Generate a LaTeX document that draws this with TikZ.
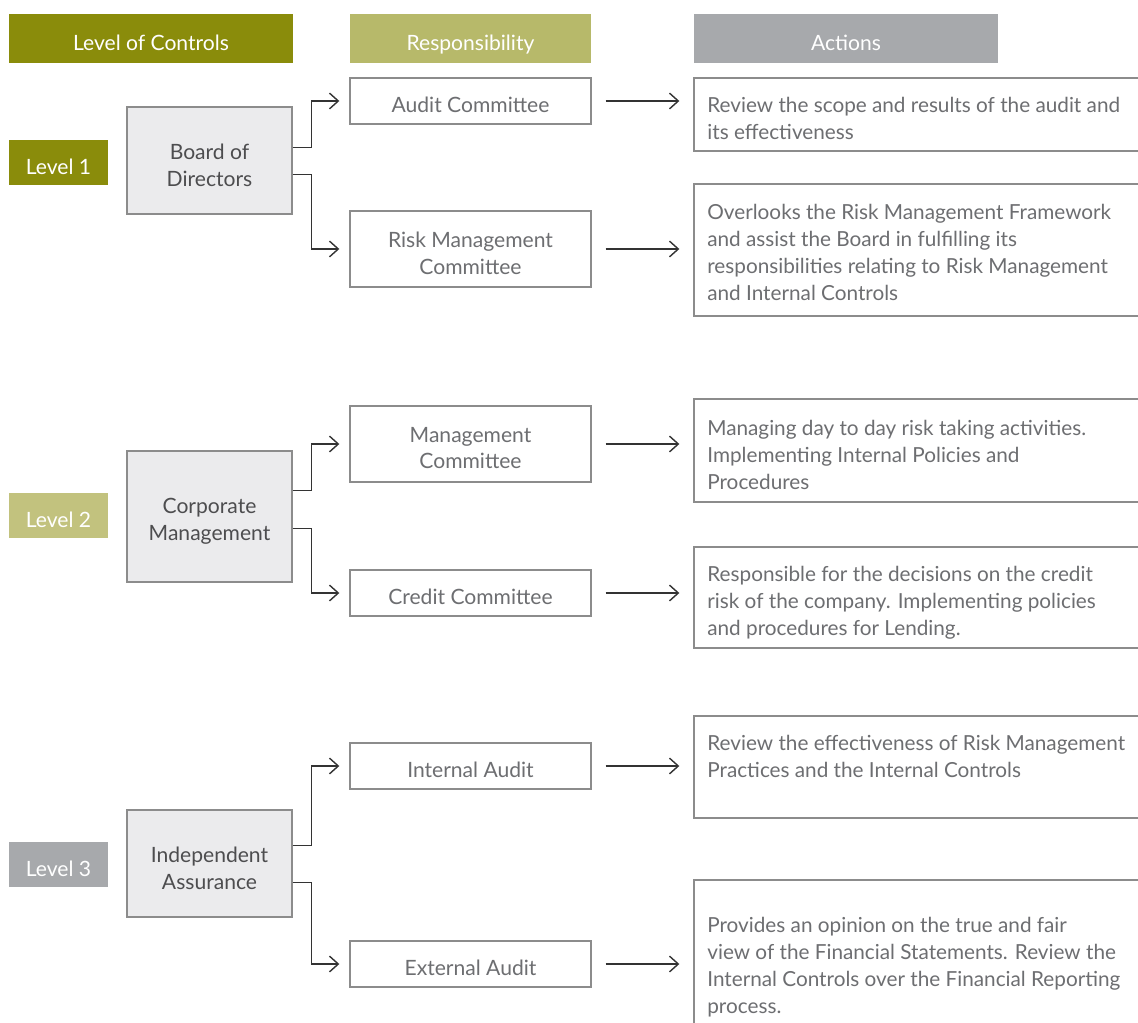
\documentclass[tikz,border=0pt]{standalone}
\usepackage{fontspec}
\setmainfont{Lato}
\usepackage{tikz}
\usetikzlibrary{arrows.meta,positioning,fit,calc}
\definecolor{lvlolive}{HTML}{8A8C0B}
\definecolor{lvllight}{HTML}{C2C27E}
\definecolor{lvlhead}{HTML}{B7B96A}
\definecolor{lvlgray}{HTML}{A7A9AC}
\definecolor{boxfill}{HTML}{EBEBED}
\definecolor{boxline}{HTML}{8C8C8C}
\definecolor{txtgray}{HTML}{6D6E71}
\definecolor{txtdark}{HTML}{4D4D4F}
\definecolor{linkdark}{HTML}{333333}
\tikzset{
  hdr/.style={fill=#1,inner sep=0pt},
  hdrtext/.style={text=white,font=\fontsize{12}{15}\selectfont,text height=8.6pt,text depth=0pt,yshift=-0.08cm},
  mainbox/.style={draw=boxline,fill=boxfill,line width=0.8pt,inner sep=0pt},
  maintext/.style={align=center,text=txtdark,font=\fontsize{12}{15.3}\selectfont,yshift=-0.09cm},
  respbox/.style={draw=boxline,fill=white,line width=0.8pt,inner sep=0pt},
  resptext/.style={align=center,text=txtgray,font=\fontsize{12}{15.3}\selectfont,yshift=-0.08cm},
  actbox/.style={draw=boxline,fill=white,line width=0.8pt,inner sep=0pt},
  acttext/.style={anchor=north west,inner sep=0pt,align=left,text=txtgray,font=\fontsize{11.8}{15.3}\selectfont},
  ar/.style={-{Straight Barb[length=5pt,width=9pt]},draw=linkdark,line width=0.8pt},
}

\begin{document}
\begin{tikzpicture}[x=0.02cm,y=-0.02cm]
  \useasboundingbox (0,0) rectangle (1138,1023);
  % headers
  \node[hdr=lvlolive,fit={(9,14) (293,63)}] (hlevel) {};
  \node[hdrtext] at (hlevel.center) (hleveltxt) {Level of Controls};
  \node[hdr=lvlhead,fit={(350,14) (591,63)}] (hresp) {};
  \node[hdrtext] at (hresp.center) (hresptxt) {Responsibility};
  \node[hdr=lvlgray,fit={(694,14) (998,63)}] (hact) {};
  \node[hdrtext] at (hact.center) (hacttxt) {Actions};

  % levels and main boxes
  \foreach \n/\col/\y/\top/\bot/\txt in {1/lvlolive/162/107/214/{Board of\\Directors},
                                          2/lvllight/515/451/582/{Corporate\\Management},
                                          3/lvlgray/864/810/917/{Independent\\Assurance}}{
    \node[hdr=\col,fit={(9,\y-22) (108,\y+23)}] (lvl\n) {};
    \node[hdrtext] at (lvl\n.center) (lvltxt\n) {Level \n};
    \node[mainbox,fit={(127,\top) (292,\bot)}] (m\n) {};
    \node[maintext] at (m\n.center) (mt\n) {\txt};
  }

  % responsibility boxes
  \node[respbox,fit={(350,78) (591,124)}] (r1) {};
  \node[resptext] at (r1.center) (rt1) {Audit Committee};
  \node[respbox,fit={(350,211) (591,287)}] (r2) {};
  \node[resptext] at (r2.center) (rt2) {Risk Management\\Committee};
  \node[respbox,fit={(350,406) (591,482)}] (r3) {};
  \node[resptext] at (r3.center) (rt3) {Management\\Committee};
  \node[respbox,fit={(350,570) (591,616)}] (r4) {};
  \node[resptext] at (r4.center) (rt4) {Credit Committee};
  \node[respbox,fit={(350,743) (591,789)}] (r5) {};
  \node[resptext] at (r5.center) (rt5) {Internal Audit};
  \node[respbox,fit={(350,941) (591,987)}] (r6) {};
  \node[resptext] at (r6.center) (rt6) {External Audit};

  % action boxes (run off the right edge)
  \node[actbox,fit={(694,78) (1160,151)}] (a1) {};
  \node[acttext] at (707,97) (at1) {Review the scope and results of the audit and\\its effectiveness};
  \node[actbox,fit={(694,184) (1160,316)}] (a2) {};
  \node[acttext] at (707,204) (at2) {Overlooks the Risk Management Framework\\and assist the Board in fulfilling its\\responsibilities relating to Risk Management\\and Internal Controls};
  \node[actbox,fit={(694,399) (1160,502)}] (a3) {};
  \node[acttext] at (707,420) (at3) {Managing day to day risk taking activities.\\Implementing Internal Policies and\\Procedures};
  \node[actbox,fit={(694,547) (1160,648)}] (a4) {};
  \node[acttext] at (707,566) (at4) {Responsible for the decisions on the credit\\risk of the company. Implementing policies\\and procedures for Lending.};
  \node[actbox,fit={(694,716) (1160,818)}] (a5) {};
  \node[acttext] at (707,735) (at5) {Review the effectiveness of Risk Management\\Practices and the Internal Controls};
  \node[actbox,fit={(694,880) (1160,1040)}] (a6) {};
  \node[acttext] at (707,917) (at6) {Provides an opinion on the true and fair\\view of the Financial Statements. Review the\\Internal Controls over the Financial Reporting\\process.};

  % connectors main box -> responsibility
  \foreach \m/\up/\dn/\ra/\rb in {1/13/14/r1/r2, 2/26/12/r3/r4, 3/18/19/r5/r6}{
    \draw[ar] ([yshift=\up*0.02cm]m\m.east) -| ($(\ra.west)+(-38,0)$) -- ([xshift=-0.2cm]\ra.west);
    \draw[ar] ([yshift=-\dn*0.02cm]m\m.east) -| ($(\rb.west)+(-38,0)$) -- ([xshift=-0.2cm]\rb.west);
  }
  % responsibility -> actions
  \foreach \i in {1,...,6}{
    \draw[ar] ([xshift=0.28cm]r\i.east) -- ([xshift=-0.28cm]r\i.east -| a\i.west);
  }
\end{tikzpicture}
\end{document}
